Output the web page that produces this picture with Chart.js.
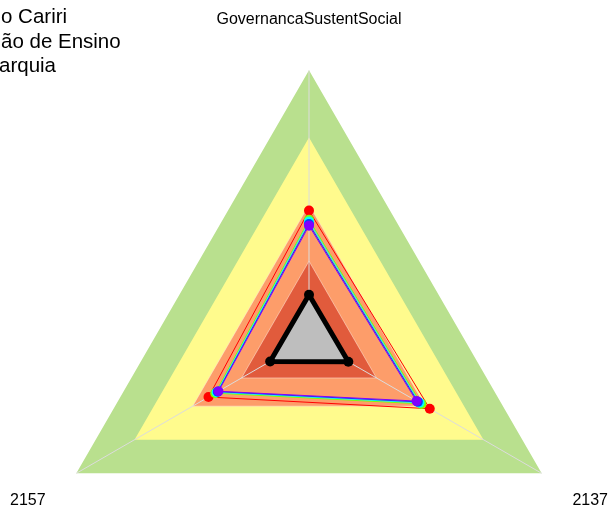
<!DOCTYPE html>
<html>
<head>
<meta charset="utf-8">
<script src="https://cdn.jsdelivr.net/npm/chart.js@4"></script>
<style>
  html, body { margin: 0; padding: 0; background: #ffffff; }
  body { width: 611px; height: 512px; overflow: hidden; position: relative; }
  canvas.layer { position: absolute; left: 0; top: -21px; }
  .title { position: absolute; left: 1px; font-family: "Liberation Sans", Arial, sans-serif; font-size: 20.5px; color: #000; white-space: nowrap; line-height: 1; }
</style>
</head>
<body>
<canvas id="bands" class="layer" width="611" height="720"></canvas>
<canvas id="series" class="layer" width="611" height="720"></canvas>
<div class="title" style="top:6px">o Cariri</div>
<div class="title" style="top:31px">ão de Ensino</div>
<div class="title" style="top:55px;left:-1px">arquia</div>
<script>
// Axes of the radar (clockwise from the top)
const axisLabels = ['GovernancaSustentSocial', '2137', '2157'];

// Reference bands (score levels), outermost first
const bandLevels = [100, 75, 50, 29];
const bandColors = ['#B9E08E', '#FFFB8D', '#FD9D6A', '#E15B3C'];

// Indicator values per series
const serieVermelha = [47.8, 51.9, 43.2];
const serieVerde    = [44.4, 48.3, 40.3];
const serieCiano    = [43.7, 47.5, 39.7];
const serieAzul     = [42.8, 46.8, 39.2];
const serieRoxa     = [42.2, 46.2, 38.9];
const serieMinima   = [16.5, 16.9, 16.7];

const FONT = '"Liberation Sans", Arial, sans-serif';

function radialScale(isBase) {
  return {
    r: {
      min: 0,
      max: 100,
      startAngle: 0,
      ticks: { display: false },
      grid: { display: false, z: 1 },
      angleLines: { display: isBase, color: '#DCDCDC', lineWidth: 1 },
      pointLabels: {
        display: true,
        font: { family: FONT, size: 16 },
        color: isBase ? '#000000' : 'rgba(0,0,0,0)',
        padding: (ctx) => (ctx.index === 0 ? 41.5 : 35.5)
      }
    }
  };
}

const common = {
  responsive: false,
  animation: false,
  events: [],
  layout: { padding: { left: 11, right: 2, top: 0, bottom: 0 } },
  plugins: { legend: { display: false }, tooltip: { enabled: false }, title: { display: false } }
};

// Bottom layer: coloured bands with the axis spokes drawn over them
new Chart(document.getElementById('bands'), {
  type: 'radar',
  data: {
    labels: axisLabels,
    datasets: bandLevels.map((v, i) => ({
      label: 'faixa ' + v,
      data: axisLabels.map(() => v),
      backgroundColor: bandColors[i],
      borderColor: i >= 2 ? 'rgba(255,230,215,0.55)' : 'rgba(0,0,0,0)',
      borderWidth: i >= 2 ? 1 : 0,
      pointRadius: 0,
      fill: 'origin',
      order: 10 - i
    }))
  },
  options: Object.assign({}, common, { scales: radialScale(true) })
});

// Top layer: the series
function line(label, data, color, order) {
  return {
    label, data,
    borderColor: color,
    backgroundColor: color,
    borderWidth: 1,
    pointRadius: 5,
    pointBorderWidth: 0,
    pointBackgroundColor: color,
    fill: false,
    order
  };
}

new Chart(document.getElementById('series'), {
  type: 'radar',
  data: {
    labels: axisLabels,
    datasets: [
      line('serie 1', serieVermelha, '#FF0000', 6),
      line('serie 2', serieVerde, '#80FF00', 5),
      line('serie 3', serieCiano, '#00FFFF', 4),
      line('serie 4', serieAzul, '#0040FF', 3),
      line('serie 5', serieRoxa, '#8000FF', 2),
      {
        label: 'minimo',
        data: serieMinima,
        borderColor: '#000000',
        backgroundColor: '#BEBEBE',
        borderWidth: 5,
        pointRadius: 5,
        pointBorderWidth: 0,
        pointBackgroundColor: '#000000',
        fill: 'origin',
        order: 1
      }
    ]
  },
  options: Object.assign({}, common, { scales: radialScale(false) })
});
</script>
</body>
</html>
